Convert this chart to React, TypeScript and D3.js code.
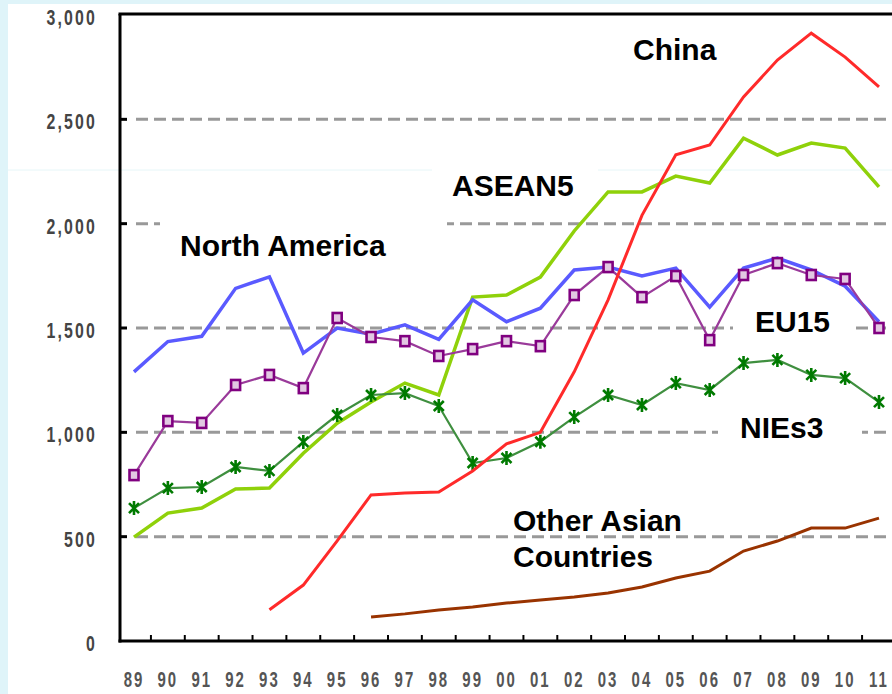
import * as d3 from "d3";

// years on the x axis (1989 - 2011)
const years = ["89", "90", "91", "92", "93", "94", "95", "96", "97", "98", "99", "00", "01", "02", "03", "04", "05", "06", "07", "08", "09", "10", "11"];
const yTicks = [0, 500, 1000, 1500, 2000, 2500, 3000];

const northAmerica = [1290, 1435, 1460, 1690, 1745, 1380, 1500, 1470, 1515, 1445, 1635, 1530, 1595, 1778, 1792, 1750, 1787, 1600, 1787, 1835, 1778, 1700, 1530];
const eu15 = [795, 1054, 1045, 1227, 1275, 1212, 1548, 1457, 1437, 1366, 1399, 1437, 1413, 1658, 1792, 1648, 1749, 1442, 1754, 1811, 1754, 1735, 1500];
const nies3 = [637, 733, 738, 834, 815, 954, 1083, 1179, 1188, 1126, 853, 877, 955, 1073, 1179, 1131, 1236, 1203, 1332, 1347, 1275, 1260, 1145];
const asean5 = [498, 613, 637, 728, 733, 900, 1044, 1145, 1236, 1179, 1648, 1658, 1744, 1965, 2152, 2152, 2228, 2195, 2410, 2329, 2386, 2362, 2176];
const china = [null, null, null, null, 150, 268, 480, 700, 709, 714, 815, 945, 1000, 1290, 1635, 2040, 2330, 2377, 2607, 2784, 2913, 2798, 2655];
const otherAsia = [null, null, null, null, null, null, null, 115, 130, 149, 163, 182, 196, 211, 230, 259, 302, 335, 431, 479, 541, 541, 589];

const W = 892;
const H = 694;
const left = 120;
const top = 15;
const bottom = 641;

const x = d3.scalePoint<string>().domain(years).range([134, 879]);
const y = d3.scaleLinear().domain([0, 3000]).range([bottom, top]);
const step = x.step();

type V = number | null;
const line = d3.line<V>()
  .defined(d => d != null)
  .x((_, i) => x(years[i])!)
  .y(d => y(d as number));

const font = "'Liberation Sans', Arial, sans-serif";

// label boxes cover the grid, like in the original
const labels = [
  { text: ["China"], x: 633, y: 60, box: null },
  { text: ["ASEAN5"], x: 452, y: 196, box: [432, 168, 166, 36] },
  { text: ["North America"], x: 180, y: 256, box: [160, 205, 287, 58] },
  { text: ["EU15"], x: 755, y: 332, box: [733, 302, 121, 40] },
  { text: ["NIEs3"], x: 740, y: 438, box: [718, 410, 144, 40] },
  { text: ["Other Asian", "Countries"], x: 513, y: 531, box: null },
];

function Star({ cx, cy }: { cx: number; cy: number }) {
  return (
    <path
      transform={`translate(${cx},${cy})`}
      d="M0,-7V7M-5,-5L5,5M-5,5L5,-5"
      stroke="#007a00"
      strokeWidth={2.6}
      fill="none"
    />
  );
}

export default function App() {
  return (
    <svg width={W} height={H} style={{ position: "absolute", left: 0, top: 0, display: "block" }}>
      <rect width={W} height={H} fill="#dff4f9" />
      <rect x={8} y={4} width={W - 8} height={H - 4} fill="#ffffff" />
      <line x1={8} x2={W} y1={170} y2={170} stroke="#e6f6f8" strokeWidth={1} />

      {/* grid */}
      {yTicks.filter(t => t > 0 && t < 3000).map(t => (
        <g key={t}>
          <line x1={136} x2={W} y1={y(t)} y2={y(t)} stroke="#999" strokeWidth={3} strokeDasharray="12 6" />
          <line x1={left} x2={left + 7} y1={y(t)} y2={y(t)} stroke="#000" strokeWidth={3} />
        </g>
      ))}

      {labels.filter(l => l.box).map((l, i) => (
        <rect key={i} x={l.box![0]} y={l.box![1]} width={l.box![2]} height={l.box![3]} fill="#fff" />
      ))}

      {/* frame */}
      <line x1={left - 1.5} x2={W} y1={14} y2={14} stroke="#000" strokeWidth={3} />
      <line x1={left} x2={left} y1={14} y2={bottom + 1.5} stroke="#000" strokeWidth={3} />
      <line x1={left - 1.5} x2={W} y1={bottom} y2={bottom} stroke="#000" strokeWidth={3} />
      {years.map(yr => (
        <line key={yr} x1={x(yr)! + step / 2} x2={x(yr)! + step / 2} y1={bottom} y2={bottom - 6} stroke="#000" strokeWidth={2} />
      ))}

      {/* axis labels */}
      {yTicks.map(t => (
        <text
          key={t}
          transform={`translate(97,${y(t) + 10}) scale(0.72,1)`}
          textAnchor="end"
          fontFamily={font}
          fontWeight="bold"
          fontSize={22}
          letterSpacing={3}
          fill="#444"
        >
          {d3.format(",")(t)}
        </text>
      ))}
      {years.map(yr => (
        <text
          key={yr}
          transform={`translate(${x(yr)},687) scale(0.68,1)`}
          textAnchor="middle"
          fontFamily={font}
          fontWeight="bold"
          fontSize={22}
          letterSpacing={3}
          fill="#555"
        >
          {yr}
        </text>
      ))}

      {/* series */}
      <path d={line(otherAsia) ?? ""} fill="none" stroke="#993300" strokeWidth={3} />
      <path d={line(asean5) ?? ""} fill="none" stroke="#8fd10a" strokeWidth={3.5} />
      <path d={line(nies3) ?? ""} fill="none" stroke="#3f8f3f" strokeWidth={2.2} />
      {nies3.map((v, i) => <Star key={i} cx={x(years[i])!} cy={y(v)} />)}
      <path d={line(northAmerica) ?? ""} fill="none" stroke="#5a5aff" strokeWidth={3.5} />
      <path d={line(eu15) ?? ""} fill="none" stroke="#9a3a9a" strokeWidth={2.2} />
      {eu15.map((v, i) => (
        <rect key={i} x={x(years[i])! - 4.5} y={y(v) - 5} width={9} height={10} fill="#e2c8e2" stroke="#800080" strokeWidth={2.6} />
      ))}
      <path d={line(china) ?? ""} fill="none" stroke="#ff2a2a" strokeWidth={3} />

      {labels.map((l, i) => (
        <text key={i} x={l.x} y={l.y} fontFamily={font} fontWeight="bold" fontSize={30} fill="#000">
          {l.text.map((t, j) => (
            <tspan key={j} x={l.x} dy={j === 0 ? 0 : 36}>{t}</tspan>
          ))}
        </text>
      ))}
    </svg>
  );
}
